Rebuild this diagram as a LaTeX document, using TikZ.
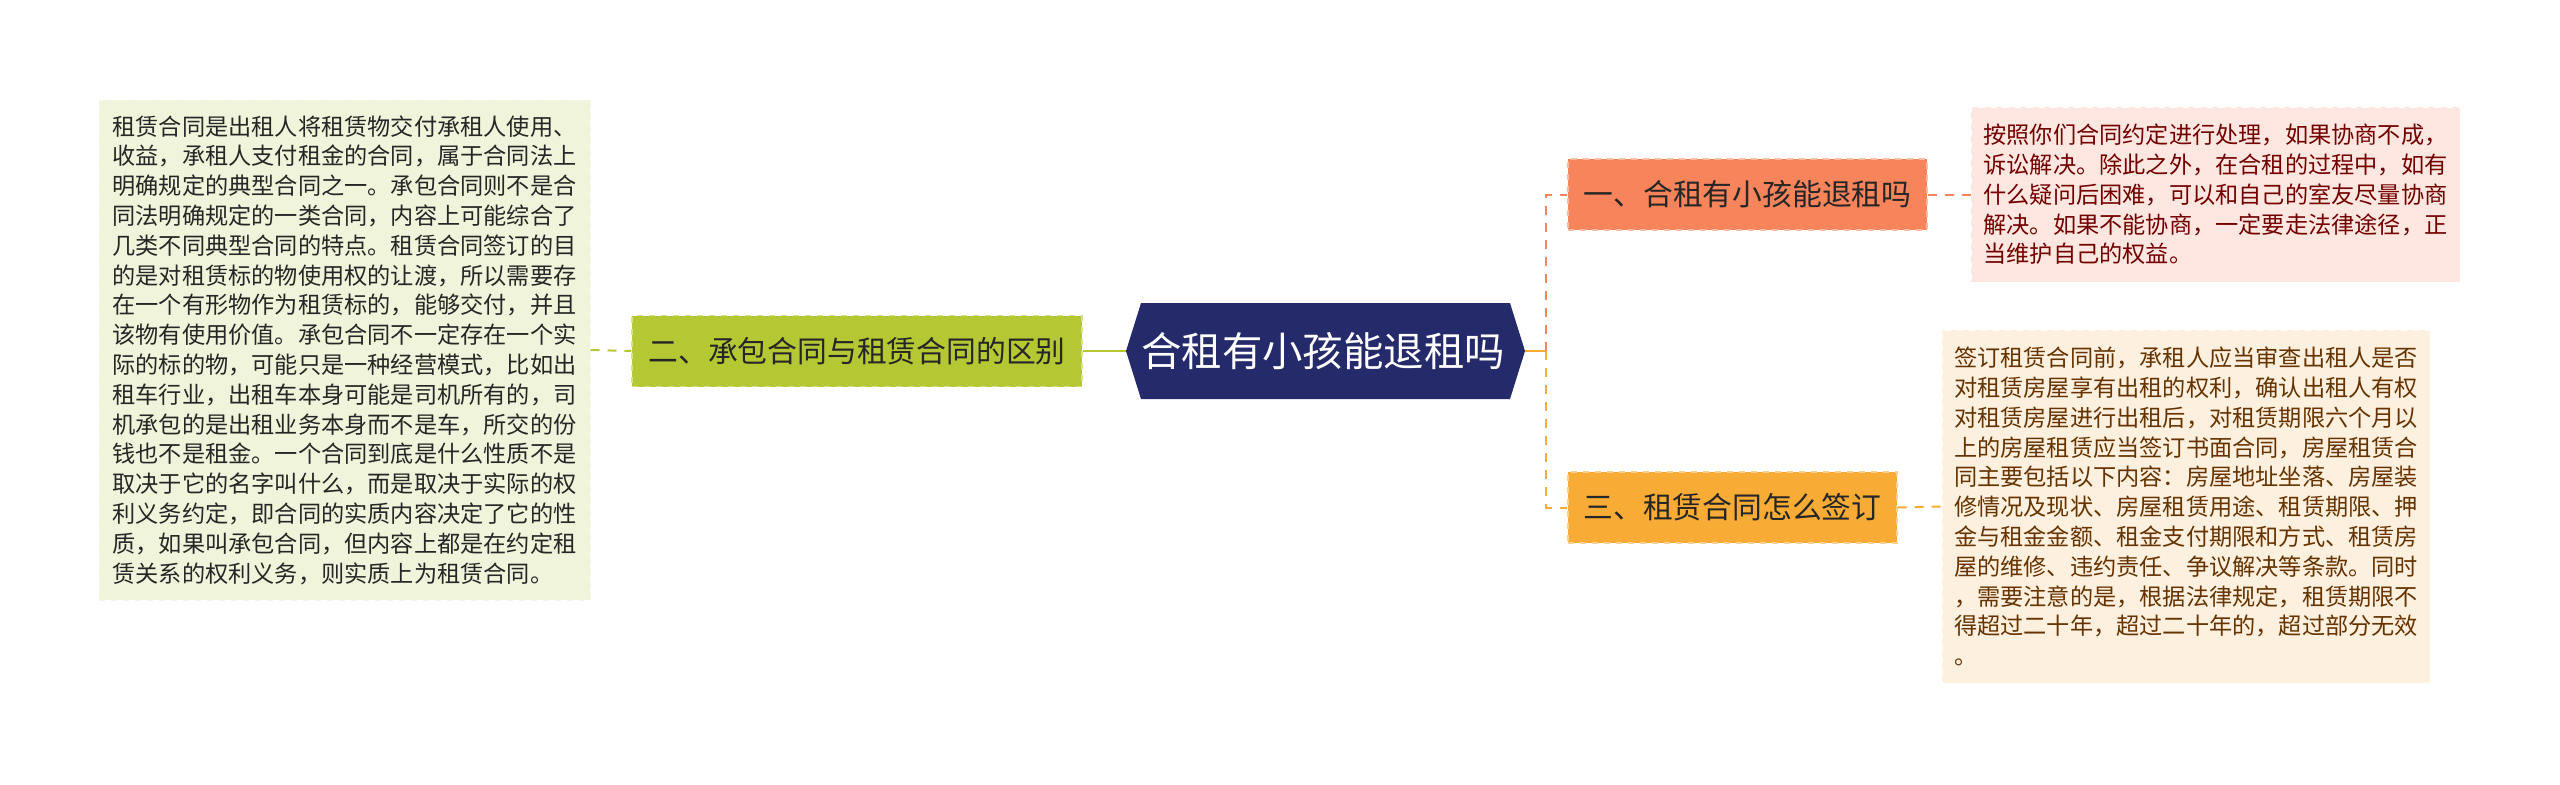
\documentclass[tikz,border=0pt]{standalone}
\usepackage{fontspec}
\usepackage{xcolor}
\newfontfamily\cjk{Noto Sans CJK SC}

\definecolor{rootblue}{HTML}{252A6A}
\definecolor{leafgreen}{HTML}{B5C834}
\definecolor{notegreen}{HTML}{F0F4DA}
\definecolor{salmon}{HTML}{F7845A}
\definecolor{notepink}{HTML}{FDE7E0}
\definecolor{amber}{HTML}{F9AC35}
\definecolor{notecream}{HTML}{FDF0DE}

\begin{document}
\begin{tikzpicture}[x=0.5pt, y=-0.5pt,
		branch/.style={font=\cjk\fontsize{14.9pt}{18pt}\selectfont, text=black!85, minimum height=35.5pt, inner xsep=7.5pt, dashed, line width=0.6pt},
		note/.style={font=\cjk\fontsize{11.6pt}{14.9pt}\selectfont, align=left, inner sep=0pt, dashed, line width=0.5pt},
		link/.style={line width=1.3pt},
		dlink/.style={line width=1pt, dash pattern=on 4.5pt off 4pt}]
				\fill[white] (0,0) rectangle (2560,784);
				\useasboundingbox (0,0) rectangle (2560,784);
				
				% Root
				\coordinate (rootL) at (1126,351);
				\coordinate (rootR) at (1525,351);
				\fill[rootblue] (rootL) -- (1141,303) -- (1510,303) -- (rootR) -- (1510,399) -- (1141,399) -- cycle;
				\node[font=\cjk\fontsize{20.2pt}{23pt}\selectfont, text=white] (root) at (1323,351) {合租有小孩能退租吗};
				
				% Branch two, left side
				\node[branch, fill=leafgreen, draw=leafgreen!55!white, minimum width=225pt] (b2) at (857,351) {二、承包合同与租赁合同的区别};
				\node[note, fill=notegreen, draw=notegreen!60!white, text=black!85, minimum width=245.5pt, minimum height=250pt] (t2) at (344.5,350) {租赁合同是出租人将租赁物交付承租人使用、\\收益，承租人支付租金的合同，属于合同法上\\明确规定的典型合同之一。承包合同则不是合\\同法明确规定的一类合同，内容上可能综合了\\几类不同典型合同的特点。租赁合同签订的目\\的是对租赁标的物使用权的让渡，所以需要存\\在一个有形物作为租赁标的，能够交付，并且\\该物有使用价值。承包合同不一定存在一个实\\际的标的物，可能只是一种经营模式，比如出\\租车行业，出租车本身可能是司机所有的，司\\机承包的是出租业务本身而不是车，所交的份\\钱也不是租金。一个合同到底是什么性质不是\\取决于它的名字叫什么，而是取决于实际的权\\利义务约定，即合同的实质内容决定了它的性\\质，如果叫承包合同，但内容上都是在约定租\\赁关系的权利义务，则实质上为租赁合同。};
				\draw[link, leafgreen] (b2.east) -- (rootL);
				\draw[dlink, leafgreen] (t2.east) -- (b2.west);
				
				% Branch one, upper right
				\node[branch, fill=salmon, draw=salmon!55!white, minimum width=179.5pt] (b1) at (1747.5,194.5) {一、合租有小孩能退租吗};
				\node[note, fill=notepink, draw=white, text=red!45!black, minimum width=244.5pt, minimum height=87.5pt] (t1) at (2215.5,194.5) {按照你们合同约定进行处理，如果协商不成，\\诉讼解决。除此之外，在合租的过程中，如有\\什么疑问后困难，可以和自己的室友尽量协商\\解决。如果不能协商，一定要走法律途径，正\\当维护自己的权益。};
				
				% Branch three, lower right
				\node[branch, fill=amber, draw=amber!55!white, minimum width=164.5pt] (b3) at (1732.5,507.5) {三、租赁合同怎么签订};
				\node[note, fill=notecream, draw=white, text=orange!40!black, minimum width=244pt, minimum height=176.5pt] (t3) at (2186,506.5) {签订租赁合同前，承租人应当审查出租人是否\\对租赁房屋享有出租的权利，确认出租人有权\\对租赁房屋进行出租后，对租赁期限六个月以\\上的房屋租赁应当签订书面合同，房屋租赁合\\同主要包括以下内容：房屋地址坐落、房屋装\\修情况及现状、房屋租赁用途、租赁期限、押\\金与租金金额、租金支付期限和方式、租赁房\\屋的维修、违约责任、争议解决等条款。同时\\，需要注意的是，根据法律规定，租赁期限不\\得超过二十年，超过二十年的，超过部分无效\\。};
				
				% Connectors on the right
				\coordinate (bus) at (1546,351);
				\draw[link, amber] (rootR) -- (bus);
				\draw[dlink, salmon] (bus) |- (b1.west);
				\draw[dlink, amber] (bus) |- (b3.west);
				\draw[dlink, salmon] (b1.east) -- (t1.west);
				\draw[dlink, amber] (b3.east) -- (t3.west);
			\end{tikzpicture}
\end{document}
